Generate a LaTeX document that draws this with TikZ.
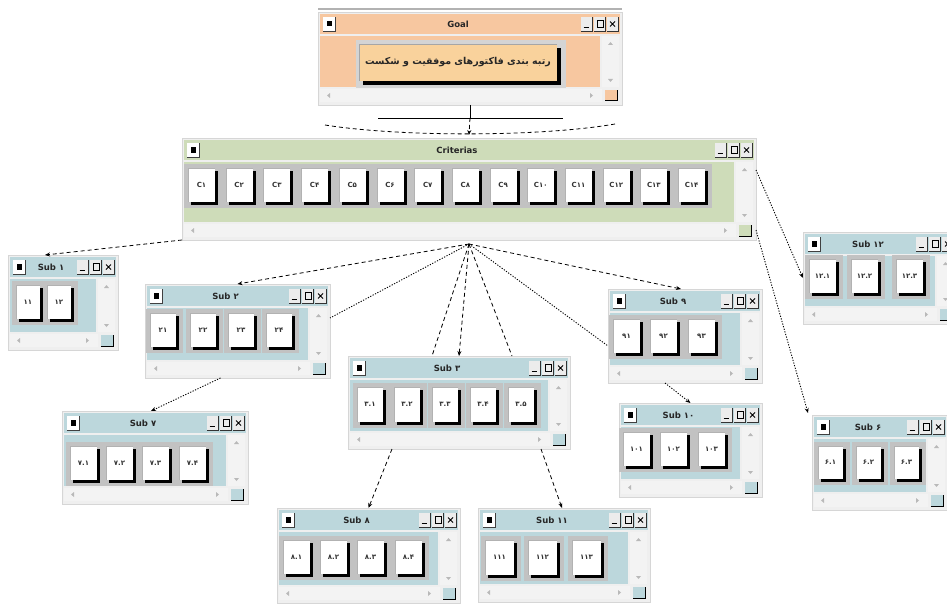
\documentclass[tikz,border=0pt]{standalone}
\usepackage{fontspec}
\setmainfont{DejaVu Sans}
\newfontfamily\arabicfont[Script=Arabic]{DejaVu Sans}
\TeXXeTstate=1
\usetikzlibrary{arrows.meta,calc}
\definecolor{peach}{HTML}{F7C7A0}
\definecolor{goalbtn}{HTML}{F9D29C}
\definecolor{critgreen}{HTML}{CEDCB9}
\definecolor{subblue}{HTML}{BCD7DC}
\definecolor{winbg}{HTML}{EFEFEF}
\definecolor{frame}{HTML}{D6D6D6}
\definecolor{slot}{HTML}{C2C2C2}
\definecolor{scrollbg}{HTML}{F3F3F3}
\definecolor{ctrlbg}{HTML}{ECECEC}
\newcounter{bc}
% Persian digits from ASCII digits (a dot stays a dot)
\newcommand\fa[1]{\faloop#1\relax}
\def\faloop#1{\ifx#1\relax\else\fadigit{#1}\expandafter\faloop\fi}
\def\fadigit#1{\ifx.#1.\else\char\numexpr"06F0+#1\relax\fi}
\tikzset{
  winframe/.style={draw=frame, fill=winbg, inner sep=0pt, outer sep=0pt, line width=0.6pt},
  titletext/.style={font=\fontsize{8.5}{9}\selectfont\bfseries, text=black!85, inner sep=0pt},
  btntext/.style={font=\fontsize{7}{8}\selectfont\bfseries, text=black!80, inner sep=0pt},
  dashlink/.style={draw, dash pattern=on 4pt off 3pt, line width=0.8pt},
  dotlink/.style={draw, dash pattern=on 1.2pt off 1.5pt, line width=0.9pt},
  arrowend/.style={-{Stealth[length=5pt,width=4pt]}}
}
% window: name, x1, y1, x2, y2, colour, title
\newcommand\win[7]{%
  \pgfmathsetmacro\ww{#4-#2}\pgfmathsetmacro\wh{#5-#3}%
  \pgfmathsetmacro\wcx{(#2+#4)/2}\pgfmathsetmacro\wcy{(#3+#5)/2}%
  \node[winframe, minimum width=\ww pt, minimum height=\wh pt] (#1) at (\wcx,\wcy) {};
  \fill[#6] (#2+2,#3+2) rectangle (#4-2,#3+22);
  \fill[white] (#2+5,#3+5) rectangle (#2+17,#3+19);
  \draw[black!75, line width=0.8pt] (#2+5,#3+19) -- (#2+17,#3+19) -- (#2+17,#3+5);
  \fill[black] (#2+8.5,#3+9) rectangle (#2+13.5,#3+14.5);
  \foreach \k in {0,1,2} {
    \fill[ctrlbg] (#4-41+13*\k,#3+5) rectangle (#4-30+13*\k,#3+19);
    \draw[black!80, line width=0.8pt] (#4-41+13*\k,#3+19) -- (#4-30+13*\k,#3+19) -- (#4-30+13*\k,#3+5);
  }
  \draw[line width=1.3pt] (#4-38.5,#3+15.5) -- (#4-33,#3+15.5);
  \draw[line width=0.7pt] (#4-25,#3+8.5) rectangle (#4-19,#3+15.5);
  \draw[line width=1.3pt] (#4-25,#3+8.8) -- (#4-19,#3+8.8);
  \draw[line width=0.8pt] (#4-12,#3+9.5) -- (#4-7,#3+14.5) (#4-12,#3+14.5) -- (#4-7,#3+9.5);
  \node[titletext] (#1t) at ({(#2+#4)/2-12},#3+12) {#7};
  \fill[#6] (#2+2,#3+24) rectangle (#4-22,#5-18);
  \fill[scrollbg] (#4-20,#3+24) rectangle (#4-3,#5-18);
  \fill[gray!55] (#4-14,#3+33) -- (#4-11.5,#3+30) -- (#4-9,#3+33) -- cycle;
  \fill[gray!55] (#4-14,#5-26) -- (#4-11.5,#5-23) -- (#4-9,#5-26) -- cycle;
  \fill[scrollbg] (#2+2,#5-16) rectangle (#4-20,#5-3);
  \fill[gray!55] (#2+9,#5-9.5) -- (#2+12,#5-12) -- (#2+12,#5-7) -- cycle;
  \fill[gray!55] (#4-29,#5-9.5) -- (#4-32,#5-12) -- (#4-32,#5-7) -- cycle;
  \fill[#6] (#4-17,#5-15) rectangle (#4-5,#5-4);
  \draw[black, line width=1pt] (#4-17,#5-4) -- (#4-5,#5-4) -- (#4-5,#5-15);
}
% button: x1, y1, x2, y2, text
\newcommand\btn[5]{%
  \stepcounter{bc}%
  \fill[slot] (#1-4,#2-4) rectangle (#3+4,#4+3);
  \fill[black] (#1+3,#2+3) rectangle (#3,#4);
  \fill[white] (#1,#2) rectangle (#3-3,#4-3);
  \draw[gray!60, line width=0.6pt] (#1+0.3,#4-3) -- (#1+0.3,#2+0.3) -- (#3-3,#2+0.3);
  \node[btntext] (btn\arabic{bc}) at ({(#1+#3-3)/2},{(#2+#4-3)/2}) {#5};
}
\newcommand\btnrow[4]{%
  \foreach \bx/\bt in {#4} {\btn{\bx}{#1}{\bx+#3}{#2}{\bt}}%
}
\begin{document}
\begin{tikzpicture}[x=1pt,y=-1pt]
\useasboundingbox (0,0) rectangle (947,607);
\clip (0,0) rectangle (947,607);
\fill[white] (0,0) rectangle (947,607);

% Goal window
\win{goal}{318}{12}{622}{105}{peach}{Goal}
\draw[gray!60, line width=1.2pt] (318,9) -- (622,9);
\fill[slot!70!white] (356,40) rectangle (566,88);
\fill[black] (363,48) rectangle (561,85);
\fill[goalbtn] (359,44) rectangle (557,81);
\draw[gray!70, line width=0.7pt] (359,81) -- (359,44) -- (557,44);
\node[font=\fontsize{9.5}{11}\selectfont\bfseries, text=black!85, inner sep=0pt] (goaltext) at (458,62.5)
  {\arabicfont\bfseries\beginR رتبه بندی فاکتورهای موفقیت و شکست\endR};

% Criteria window
\win{crit}{182}{138}{756}{240}{critgreen}{Criterias}
\btnrow{168}{205}{30}{188/C\fa{1}, 225.7/C\fa{2}, 263.4/C\fa{3}, 301.1/C\fa{4}, 338.8/C\fa{5}, 376.5/C\fa{6}, 414.2/C\fa{7}, 451.9/C\fa{8}, 489.6/C\fa{9}, 527.3/C\fa{10}, 565/C\fa{11}, 602.7/C\fa{12}, 640.4/C\fa{13}, 678.1/C\fa{14}}

% Sub windows
\win{subA}{8}{255}{118}{350}{subblue}{Sub \fa{1}}
\btnrow{285}{322}{27}{16/\fa{11}, 47/\fa{12}}

\win{subB}{145}{284}{330}{378}{subblue}{Sub \fa{2}}
\btnrow{313}{350}{29}{150/\fa{21}, 190/\fa{22}, 228/\fa{23}, 266/\fa{24}}

\win{subC}{348}{356}{570}{449}{subblue}{Sub \fa{3}}
\btnrow{387}{425}{29}{357/\fa{3.1}, 394/\fa{3.2}, 432/\fa{3.3}, 470/\fa{3.4}, 508/\fa{3.5}}

\win{subG}{62}{411}{248}{504}{subblue}{Sub \fa{7}}
\btnrow{446}{483}{30}{70/\fa{7.1}, 106/\fa{7.2}, 142/\fa{7.3}, 179/\fa{7.4}}

\win{subH}{277}{508}{460}{603}{subblue}{Sub \fa{8}}
\btnrow{540}{577}{30}{283/\fa{8.1}, 320/\fa{8.2}, 357/\fa{8.3}, 395/\fa{8.4}}

\win{subK}{478}{508}{650}{602}{subblue}{Sub \fa{11}}
\btnrow{540}{578}{32}{485/\fa{111}, 528/\fa{112}, 572/\fa{113}}

\win{subI}{608}{289}{762}{383}{subblue}{Sub \fa{9}}
\btnrow{319}{356}{30}{613/\fa{91}, 650/\fa{92}, 688/\fa{93}}

\win{subF}{619}{403}{762}{497}{subblue}{Sub \fa{10}}
\btnrow{432}{469}{30}{623/\fa{101}, 660/\fa{102}, 698/\fa{103}}

\win{subD}{803}{232}{957}{324}{subblue}{Sub \fa{12}}
\btnrow{259}{296}{30}{809/\fa{12.1}, 851/\fa{12.2}, 896/\fa{12.3}}

\win{subE}{812}{415}{948}{510}{subblue}{Sub \fa{6}}
\btnrow{446}{482}{28}{818/\fa{6.1}, 856/\fa{6.2}, 894/\fa{6.3}}

% Goal -> Criteria
\draw[line width=0.8pt] (goal.south) -- ([yshift=-13pt]goal.south) coordinate (gjoin);
\draw[line width=0.8pt] ([xshift=-92pt]gjoin) -- ([xshift=93pt]gjoin);
\coordinate (gl) at ([xshift=143pt,yshift=13pt]crit.north west);
\coordinate (gr) at ([xshift=-141pt,yshift=14pt]crit.north east);
\draw[dashlink] (gl) .. controls (400,137) and (540,137) .. (gr);
\draw[dashlink, arrowend] (gjoin) -- ([yshift=3pt]crit.north);

% Criteria -> sub windows
\coordinate (hub) at ([yshift=-4pt]crit.south);
\draw[dashlink, arrowend] (crit.south west) -- ([xshift=-18pt]subA.north);
\draw[dashlink, arrowend] (hub) -- (subB.north);
\draw[dotlink] (hub) -- ([yshift=13pt]subB.east);
\draw[dashlink, arrowend] (hub) -- (subC.north);
\draw[dashlink] (hub) -- ([xshift=-27pt]subC.north);
\draw[dashlink] (hub) -- ([xshift=53pt]subC.north);
\draw[dashlink, arrowend] (hub) -- ([xshift=-4pt]subI.north);
\draw[dotlink] (hub) -- ([yshift=-10pt]subI.west);
\draw[dotlink, arrowend] ([yshift=19pt]crit.east) -- (subD.west);
\draw[dotlink, arrowend] ([yshift=-41pt]crit.east) -- ([xshift=-4pt,yshift=2pt]subE.north west);
\draw[dotlink, arrowend] ([xshift=-17pt]subB.south) -- ([xshift=-4pt]subG.north);
\draw[dashlink, arrowend] ([xshift=-67pt]subC.south) -- (subH.north);
\draw[dashlink, arrowend] ([xshift=82pt]subC.south) -- ([xshift=-2pt]subK.north);
\draw[dotlink, arrowend] ([xshift=-20pt]subI.south) -- (subF.north);
\end{tikzpicture}
\end{document}
